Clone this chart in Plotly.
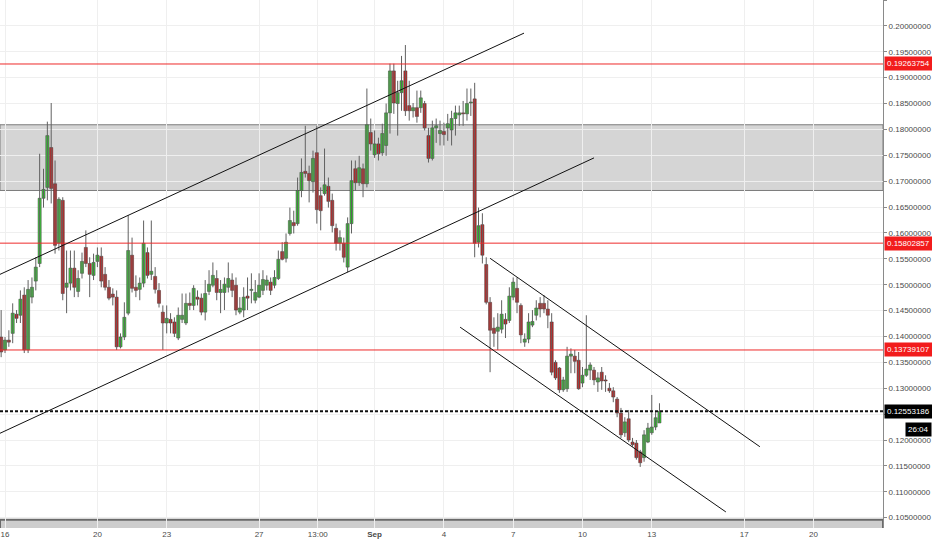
import pandas as pd
import plotly.graph_objects as go

# ---- data (4h candles) ----
start_time = "2018-08-15 20:00"
open_ = [.1399,.1374,.1393,.1406,.1443,.1441,.1480,.1374,.1476,.1507,.1541,.1667,.1688,.1765,.1695,.1580,.1663,.1495,.1503,.1532,
         .1487,.1522,.1572,.1541,.1518,.1545,.1555,.1520,.1495,.1482,.1476,.1380,.1399,.1445,.1557,.1495,.1491,.1503,.1562,.1520,
         .1516,.1489,.1447,.1426,.1433,.1428,.1397,.1433,.1426,.1464,.1460,.1476,.1474,.1447,.1487,.1499,.1512,.1485,.1485,.1495,
         .1509,.1499,.1447,.1451,.1478,.1489,.1470,.1476,.1489,.1499,.1505,.1499,.1512,.1564,.1551,.1599,.1620,.1618,.1682,.1719,
         .1715,.1699,.1755,.1672,.1676,.1690,.1663,.1609,.1580,.1580,.1534,.1618,.1724,.1697,.1724,.1695,.1794,.1751,.1772,.1755,
         .1769,.1832,.1913,.1850,.1871,.1913,.1846,.1836,.1842,.1842,.1850,.1788,.1744,.1803,.1792,.1796,.1803,.1799,.1821,.1828,
         .1832,.1830,.1851,.1859,.1582,.1616,.1539,.1466,.1416,.1410,.1414,.1433,.1431,.1476,.1493,.1460,.1389,.1395,.1422,.1441,
         .1464,.1464,.1453,.1428,.1350,.1339,.1297,.1299,.1362,.1362,.1354,.1310,.1325,.1335,.1335,.1312,.1331,.1316,.1300,.1295,
         .1279,.1252,.1214,.1241,.1196,.1194,.1177,.1166,.1196,.1214,.1225,.1233]
high = [.1451,.1399,.1412,.1464,.1451,.1489,.1495,.1509,.1514,.1553,.1753,.1724,.1815,.1851,.1740,.1669,.1669,.1566,.1566,.1566,
        .1528,.1562,.1605,.1553,.1560,.1572,.1572,.1534,.1509,.1493,.1489,.1406,.1466,.1634,.1591,.1518,.1514,.1624,.1572,.1624,
        .1534,.1503,.1460,.1460,.1445,.1437,.1456,.1483,.1483,.1485,.1499,.1489,.1483,.1509,.1528,.1543,.1528,.1509,.1514,.1543,
        .1522,.1514,.1476,.1495,.1514,.1522,.1509,.1522,.1528,.1518,.1514,.1528,.1566,.1582,.1599,.1649,.1643,.1707,.1744,.1807,
        .1730,.1759,.1807,.1688,.1763,.1707,.1676,.1618,.1605,.1591,.1630,.1740,.1740,.1749,.1734,.1879,.1821,.1798,.1784,.1811,
        .1850,.1927,.1927,.1894,.1942,.1963,.1894,.1851,.1875,.1875,.1855,.1803,.1817,.1821,.1817,.1813,.1830,.1836,.1846,.1846,
        .1855,.1879,.1879,.1890,.1649,.1638,.1553,.1476,.1437,.1445,.1470,.1445,.1495,.1514,.1514,.1464,.1406,.1445,.1451,.1470,
        .1476,.1480,.1470,.1445,.1354,.1341,.1322,.1380,.1377,.1374,.1370,.1341,.1441,.1350,.1341,.1331,.1341,.1325,.1310,.1302,
        .1283,.1262,.1244,.1258,.1204,.1200,.1181,.1219,.1233,.1287,.1254,.1271]
low = [.1360,.1368,.1380,.1387,.1426,.1426,.1368,.1368,.1464,.1489,.1534,.1649,.1663,.1657,.1560,.1566,.1470,.1445,.1489,.1476,
       .1476,.1512,.1534,.1476,.1509,.1534,.1495,.1489,.1470,.1460,.1374,.1377,.1393,.1441,.1485,.1476,.1470,.1495,.1512,.1509,
       .1483,.1456,.1374,.1406,.1406,.1399,.1393,.1426,.1422,.1451,.1451,.1460,.1441,.1431,.1480,.1495,.1470,.1445,.1451,.1485,
       .1476,.1441,.1443,.1437,.1451,.1464,.1464,.1474,.1480,.1489,.1480,.1493,.1509,.1547,.1543,.1595,.1599,.1614,.1669,.1707,
       .1659,.1678,.1618,.1605,.1672,.1649,.1601,.1566,.1566,.1543,.1524,.1599,.1682,.1691,.1669,.1688,.1759,.1745,.1740,.1749,
       .1749,.1792,.1830,.1788,.1836,.1826,.1817,.1823,.1813,.1832,.1798,.1736,.1740,.1774,.1769,.1769,.1778,.1769,.1788,.1807,
       .1807,.1817,.1826,.1553,.1572,.1541,.1462,.1331,.1380,.1374,.1406,.1397,.1426,.1470,.1445,.1387,.1380,.1387,.1418,.1431,
       .1437,.1445,.1416,.1325,.1316,.1291,.1293,.1293,.1329,.1329,.1297,.1302,.1322,.1316,.1306,.1293,.1297,.1293,.1291,.1273,
       .1244,.1204,.1206,.1196,.1187,.1162,.1148,.1158,.1194,.1210,.1219,.1233]
close = [.1370,.1393,.1389,.1445,.1435,.1472,.1374,.1491,.1495,.1534,.1667,.1684,.1788,.1686,.1576,.1665,.1483,.1503,.1532,.1495,
         .1512,.1545,.1541,.1520,.1543,.1557,.1507,.1495,.1474,.1476,.1380,.1399,.1437,.1566,.1493,.1489,.1503,.1580,.1518,.1526,
         .1491,.1464,.1426,.1435,.1426,.1406,.1441,.1441,.1464,.1460,.1493,.1472,.1447,.1483,.1501,.1518,.1485,.1491,.1501,.1512,
         .1489,.1451,.1455,.1476,.1474,.1491,.1485,.1499,.1510,.1509,.1489,.1514,.1549,.1549,.1582,.1624,.1614,.1682,.1717,.1715,
         .1701,.1744,.1645,.1643,.1693,.1661,.1614,.1580,.1591,.1553,.1618,.1701,.1697,.1726,.1695,.1809,.1772,.1772,.1753,.1792,
         .1832,.1913,.1851,.1871,.1894,.1836,.1836,.1842,.1825,.1861,.1803,.1744,.1803,.1807,.1798,.1790,.1811,.1821,.1832,.1832,
         .1830,.1850,.1853,.1580,.1614,.1557,.1466,.1412,.1406,.1418,.1443,.1424,.1478,.1505,.1466,.1403,.1395,.1428,.1429,.1455,
         .1453,.1453,.1441,.1331,.1320,.1297,.1316,.1362,.1366,.1352,.1299,.1325,.1337,.1345,.1316,.1320,.1314,.1314,.1295,.1283,
         .1252,.1210,.1235,.1200,.1191,.1166,.1156,.1210,.1223,.1225,.1243,.12553186]

# horizontal levels
red_levels = [0.19263754, 0.15802857, 0.13739107]
last_price = 0.12553186
countdown = "26:04"
zone_top, zone_bottom = 0.1809, 0.1682
bottom_zone_top, bottom_zone_bottom = 0.1046, 0.1000

# trend lines (drawn tool lines)
line_x0 = ["2018-08-15 18:48", "2018-08-15 18:48", "2018-09-06 00:00", "2018-09-04 16:50"]
line_y0 = [0.1520, 0.1213, 0.1551, 0.1418]
line_x1 = ["2018-09-07 11:15", "2018-09-10 12:00", "2018-09-17 16:20", "2018-09-16 05:00"]
line_y1 = [0.1986, 0.1745, 0.1187, 0.1061]

# axis ticks
tick_dates = ["2018-08-16", "2018-08-20", "2018-08-23", "2018-08-27", "2018-08-29 13:00",
              "2018-09-01", "2018-09-04", "2018-09-07", "2018-09-10", "2018-09-13",
              "2018-09-17", "2018-09-20"]
tick_text = ["16", "20", "23", "27", "13:00", "<b>Sep</b>", "4", "7", "10", "13", "17", "20"]
x_range = ["2018-08-15 18:48", "2018-09-23 00:15"]
y_range = [0.1030, 0.2050]

times = pd.date_range(start=start_time, periods=len(close), freq="4h")
df = pd.DataFrame(dict(t=times, o=open_, h=high, l=low, c=close))
df["bottom"] = df[["o", "c"]].min(axis=1)
df["height"] = (df["o"] - df["c"]).abs().clip(lower=0.00004)
up = df[df["c"] >= df["o"]]
dn = df[df["c"] < df["o"]]

body_ms = 4 * 3600 * 1000 * 0.8

FONT = "Liberation Sans"
fig = go.Figure()
# wicks
wx, wy = [], []
for t, h, l in zip(df["t"], df["h"], df["l"]):
    wx += [t, t, None]
    wy += [l, h, None]
fig.add_trace(go.Scatter(x=wx, y=wy, mode="lines", line=dict(color="#606060", width=1),
                         hoverinfo="skip", showlegend=False))
# bodies
fig.add_trace(go.Bar(x=up["t"], y=up["height"], base=up["bottom"], width=body_ms,
                     marker=dict(color="#3fd03a", line=dict(color="#333333", width=0.5)),
                     hoverinfo="skip", showlegend=False))
fig.add_trace(go.Bar(x=dn["t"], y=dn["height"], base=dn["bottom"], width=body_ms,
                     marker=dict(color="#d3201f", line=dict(color="#333333", width=0.5)),
                     hoverinfo="skip", showlegend=False))

shapes = []
shapes.append(dict(type="rect", xref="paper", x0=0, x1=1, yref="y", y0=zone_bottom, y1=zone_top,
                   fillcolor="#d5d5d5", line=dict(color="#7d7d7d", width=1), layer="between"))
shapes.append(dict(type="rect", xref="paper", x0=0, x1=1, yref="y", y0=bottom_zone_bottom, y1=bottom_zone_top,
                   fillcolor="#cdcdcd", line=dict(color="#6a6a6a", width=2), layer="between"))
for lv in red_levels:
    shapes.append(dict(type="line", xref="paper", x0=0, x1=1, yref="y", y0=lv, y1=lv,
                       line=dict(color="#ee2a2a", width=1), layer="above"))
shapes.append(dict(type="line", xref="paper", x0=0, x1=1, yref="y", y0=last_price, y1=last_price,
                   line=dict(color="#111111", width=2, dash="3px,2px"), layer="above"))
for a, b, c, d in zip(line_x0, line_y0, line_x1, line_y1):
    shapes.append(dict(type="line", xref="x", yref="y", x0=a, y0=b, x1=c, y1=d,
                       line=dict(color="#111111", width=1), layer="above"))

annotations = []
for lv in red_levels:
    annotations.append(dict(x=1, xref="paper", xanchor="left", y=lv, yref="y", yanchor="middle",
                            text=f"{lv:.8f}", showarrow=False, bgcolor="#f21c1c",
                            font=dict(family=FONT, size=8, color="white"), borderpad=2, xshift=1))
annotations.append(dict(x=1, xref="paper", xanchor="left", y=last_price, yref="y", yanchor="middle",
                        text=f"{last_price:.8f}", showarrow=False, bgcolor="#000000",
                        font=dict(family=FONT, size=8, color="white"), borderpad=2, xshift=1))
annotations.append(dict(x=1 + 49 / 883, xref="paper", xanchor="right", y=last_price, yref="y", yanchor="top",
                        text=countdown, showarrow=False, bgcolor="#000000",
                        font=dict(family=FONT, size=8, color="white"), borderpad=2, yshift=-11))

fig.update_layout(
    width=932, height=550,
    margin=dict(l=0, r=49, t=0, b=22, autoexpand=False),
    paper_bgcolor="white", plot_bgcolor="white",
    barmode="overlay", bargap=0,
    shapes=shapes, annotations=annotations,
    font=dict(family=FONT, size=8, color="#4a4a4a"),
    xaxis=dict(type="date", range=x_range,
               tickvals=tick_dates, ticktext=tick_text, tickangle=0,
               showgrid=True, gridcolor="#efefef", gridwidth=1, zeroline=False,
               showline=False, ticks="", tickfont=dict(family=FONT, size=8, color="#4a4a4a"),
               automargin=False, fixedrange=True),
    yaxis=dict(side="right", range=y_range, dtick=0.005, tick0=0, tickformat=".8f",
               showgrid=True, gridcolor="#efefef", gridwidth=1, zeroline=False,
               showline=True, linecolor="#8a8a8a", linewidth=1, mirror=False,
               ticks="outside", ticklen=3, tickcolor="#8a8a8a",
               tickfont=dict(family=FONT, size=8, color="#4a4a4a"),
               automargin=False, fixedrange=True),
)

fig.write_html("out.html", config={"displayModeBar": False, "staticPlot": True},
               post_script="document.body.style.margin='0';document.body.style.overflow='hidden';")
